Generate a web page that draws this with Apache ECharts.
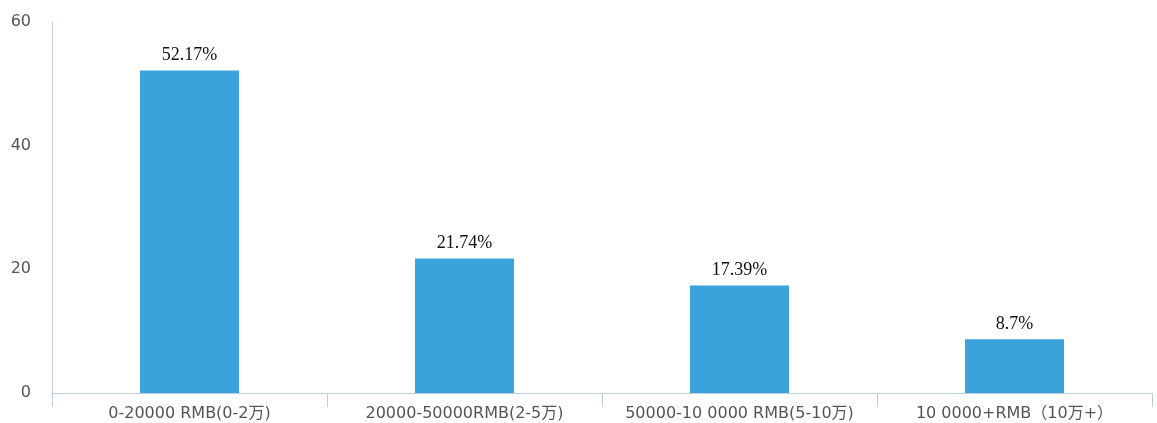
<!DOCTYPE html>
<html><head><meta charset="utf-8">
<script src="https://cdn.jsdelivr.net/npm/echarts@6/dist/echarts.min.js"></script>
<style>html,body{margin:0;padding:0;background:#fff}#c{width:1157px;height:423px}</style>
</head><body><div id="c"></div>
<script>
const categories = ['0-20000 RMB(0-2万)', '20000-50000RMB(2-5万)', '50000-10 0000 RMB(5-10万)', '10 0000+RMB（10万+）'];
const values = [52.17, 21.74, 17.39, 8.7];
const yTicks = { min: 0, max: 60, interval: 20 };

const chart = echarts.init(document.getElementById('c'));
chart.setOption({
  animation: false,
  grid: { left: 52, right: 5, top: 22, bottom: 30, containLabel: false },
  xAxis: {
    type: 'category', data: categories,
    axisLine: { lineStyle: { color: '#bccde0', width: 1 } },
    axisTick: { show: true, interval: 0, length: 14, lineStyle: { color: '#bccde0' } },
    axisLabel: { interval: 0, hideOverlap: false, color: '#555', fontSize: 16, fontFamily: '"DejaVu Sans", "Noto Sans CJK SC", sans-serif', margin: 13 }
  },
  yAxis: {
    type: 'value', min: yTicks.min, max: yTicks.max, interval: yTicks.interval,
    axisLine: { show: true, lineStyle: { color: '#bccde0', width: 1 } },
    axisTick: { show: false },
    splitLine: { show: false },
    axisLabel: { color: '#555', fontSize: 16, fontFamily: '"DejaVu Sans", sans-serif', margin: 21, padding: [8, 0, 0, 0] }
  },
  series: [{
    type: 'bar', data: values, barWidth: '36%',
    itemStyle: { color: '#3ba3db' },
    label: { show: true, position: 'top', formatter: '{c}%', color: '#111', fontSize: 18, fontFamily: '"Liberation Serif", "Times New Roman", serif', distance: 6 }
  }]
});
</script></body></html>
